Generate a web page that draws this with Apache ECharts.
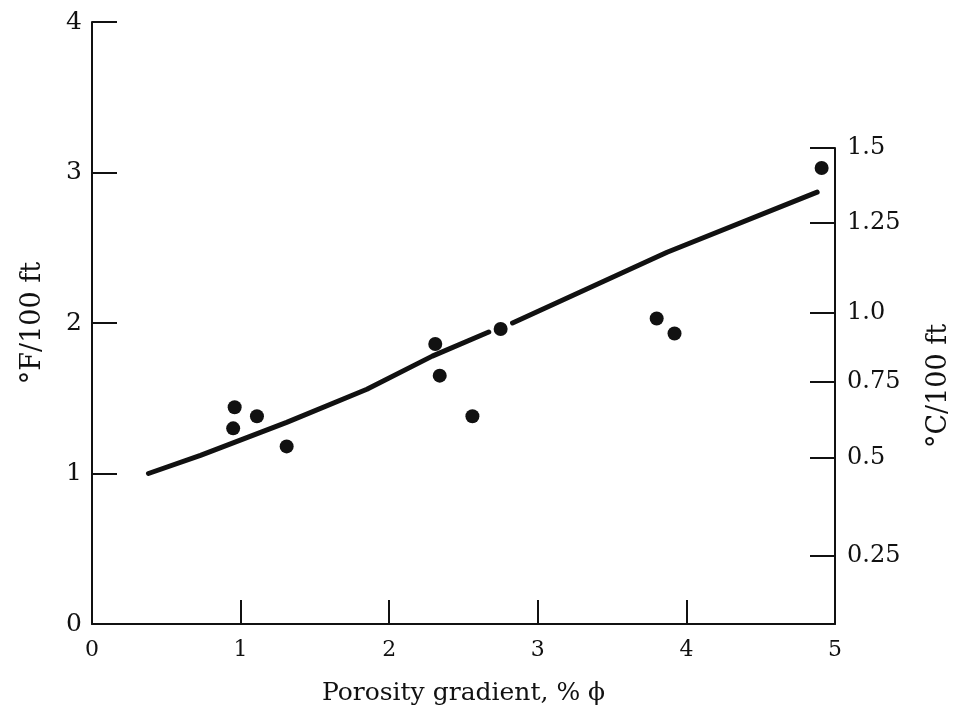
<!DOCTYPE html>
<html>
<head>
<meta charset="utf-8">
<script src="https://cdn.jsdelivr.net/npm/echarts@6/dist/echarts.min.js"></script>
<style>
html,body{margin:0;padding:0;background:#fff;}
#chart{width:962px;height:713px;}
</style>
</head>
<body>
<div id="chart"></div>
<script>
// Observed data points: [porosity gradient %, °F/100 ft]
var pointX = [0.96, 1.11, 0.95, 1.31, 2.31, 2.34, 2.56, 2.75, 3.80, 3.92, 4.91];
var pointY = [1.44, 1.38, 1.30, 1.18, 1.86, 1.65, 1.38, 1.96, 2.03, 1.93, 3.03];

// Fitted curve, drawn in two pieces (gap around the point near x=2.75)
var curve1X = [0.38, 0.73, 1.31, 1.85, 2.29, 2.67];
var curve1Y = [1.00, 1.12, 1.34, 1.56, 1.78, 1.94];
var curve2X = [2.83, 3.87, 4.88];
var curve2Y = [2.00, 2.47, 2.87];

// Axis ticks
var xTicks = [0, 1, 2, 3, 4, 5];
var leftTicks = [0, 1, 2, 3, 4];
// Right axis (°C/100 ft) labels and their positions on the °F/100 ft scale as printed
var rightLabels = ['0.25', '0.5', '0.75', '1.0', '1.25', '1.5'];
var rightPos = [0.452, 1.103, 1.608, 2.066, 2.664, 3.163];

function zip(a, b) { return a.map(function (v, i) { return [v, b[i]]; }); }

var FONT = 'DejaVu Serif';
var INK = '#111';

var chart = echarts.init(document.getElementById('chart'), null, {renderer: 'canvas'});
chart.setOption({
  backgroundColor: '#fff',
  animation: false,
  grid: [
    {left: 92, right: 127, top: 22, bottom: 89},
    {left: 92, right: 127, top: 148, bottom: 89}
  ],
  xAxis: [
    {
      type: 'value', gridIndex: 0, min: 0, max: 5, interval: 1,
      name: 'Porosity gradient, % \u03D5', nameLocation: 'middle', nameGap: 57,
      nameTextStyle: {fontFamily: FONT, fontSize: 25, color: INK},
      axisLine: {show: true, onZero: false, lineStyle: {color: INK, width: 2}},
      axisTick: {show: true, inside: true, length: 24, lineStyle: {color: INK, width: 2}},
      axisLabel: {fontFamily: FONT, fontSize: 22, color: INK, margin: 15},
      splitLine: {show: false}
    },
    {type: 'value', gridIndex: 1, min: 0, max: 5, show: false}
  ],
  yAxis: [
    {
      type: 'value', gridIndex: 0, min: 0, max: 4, interval: 1, position: 'left',
      name: '\u00B0F/100 ft', nameLocation: 'middle', nameGap: 46, nameRotate: 90,
      nameTextStyle: {fontFamily: FONT, fontSize: 27, color: INK},
      axisLine: {show: true, onZero: false, lineStyle: {color: INK, width: 2}},
      axisTick: {show: true, inside: true, length: 25, lineStyle: {color: INK, width: 2}},
      axisLabel: {fontFamily: FONT, fontSize: 25, color: INK, margin: 10},
      splitLine: {show: false}
    },
    {
      type: 'value', gridIndex: 1, min: 0, max: rightPos[rightPos.length - 1], position: 'right',
      name: '\u00B0C/100 ft', nameLocation: 'middle', nameGap: 90, nameRotate: 90,
      nameTextStyle: {fontFamily: FONT, fontSize: 27, color: INK},
      axisLine: {show: true, onZero: false, lineStyle: {color: INK, width: 2}},
      axisTick: {show: true, inside: true, length: 25, customValues: rightPos, lineStyle: {color: INK, width: 2}},
      axisLabel: {
        fontFamily: FONT, fontSize: 24, color: INK, margin: 12, customValues: rightPos,
        formatter: function (v) {
          for (var i = 0; i < rightPos.length; i++) {
            if (Math.abs(rightPos[i] - v) < 1e-6) return rightLabels[i];
          }
          return '';
        }
      },
      splitLine: {show: false}
    }
  ],
  series: [
    {
      type: 'line', xAxisIndex: 0, yAxisIndex: 0, data: zip(curve1X, curve1Y),
      smooth: false, showSymbol: false, symbol: 'none',
      lineStyle: {color: INK, width: 5, cap: 'round', join: 'round'}
    },
    {
      type: 'line', xAxisIndex: 0, yAxisIndex: 0, data: zip(curve2X, curve2Y),
      smooth: false, showSymbol: false, symbol: 'none',
      lineStyle: {color: INK, width: 5, cap: 'round', join: 'round'}
    },
    {
      type: 'scatter', xAxisIndex: 0, yAxisIndex: 0, data: zip(pointX, pointY),
      symbol: 'circle', symbolSize: 14,
      itemStyle: {color: INK, opacity: 1}
    }
  ]
});
</script>
</body>
</html>
